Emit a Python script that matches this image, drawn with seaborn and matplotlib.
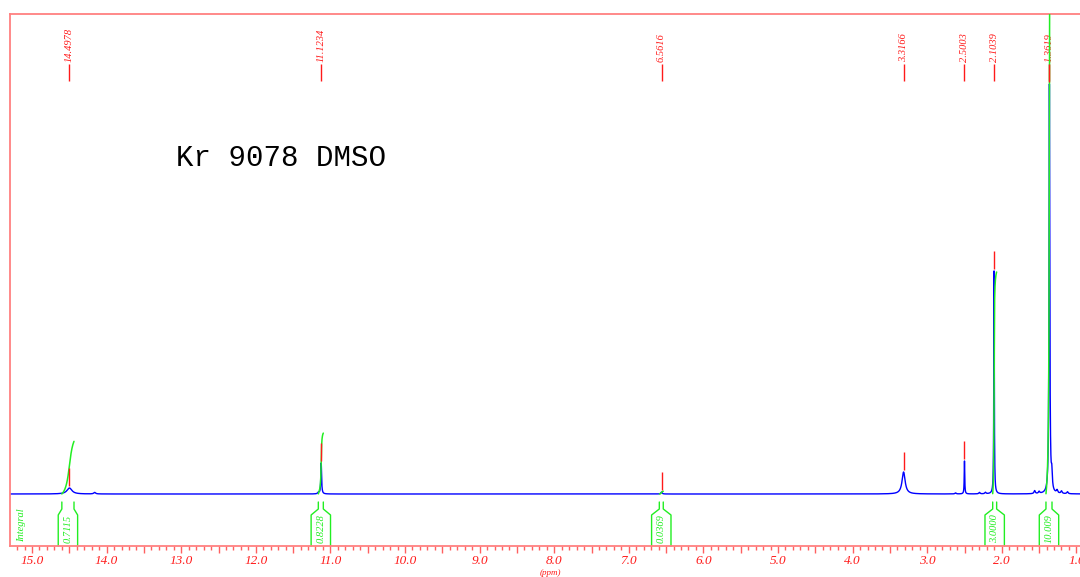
import numpy as np
import matplotlib
matplotlib.use("Agg")
import matplotlib.pyplot as plt
import seaborn as sns

# labelled peaks (ppm) and their heights / half widths
peak_ppm = [14.4978, 11.1234, 6.5616, 3.3166, 2.5003, 2.1039, 1.3619]
peak_height = [6, 31, 2, 22, 33, 223, 409]
peak_width = [0.04, 0.006, 0.01, 0.025, 0.004, 0.004, 0.006]
peak_text = ["14.4978", "11.1234", "6.5616", "3.3166", "2.5003", "2.1039", "1.3619"]

# small unlabelled bumps
minor_ppm = [14.16, 11.16, 2.62, 2.30, 2.22, 1.56, 1.50, 1.33, 1.26, 1.20, 1.12]
minor_height = [1.5, 1.5, 1.0, 1.5, 1.5, 3.0, 2.0, 16, 3.0, 2.5, 2.0]
minor_width = [0.015, 0.01, 0.01, 0.01, 0.01, 0.01, 0.01, 0.008, 0.01, 0.01, 0.01]

# integral regions
int_start = [14.60, 11.162, 6.591, 2.122, 1.408]
int_end = [14.437, 11.095, 6.538, 2.069, 1.327]
int_value = [0.7115, 0.8228, 0.0369, 3.0000, 10.009]
int_text = ["0.7115", "0.8228", "0.0369", "3.0000", "10.009"]
int_scale = 74.0

title = "Kr 9078 DMSO"

sns.set_style("white")
plt.rcParams['font.family'] = ['Liberation Serif', 'DejaVu Serif']

ppm = np.linspace(15.4, 0.7, 40000)
spec = np.zeros_like(ppm)
for x0, h, w in zip(peak_ppm + minor_ppm, peak_height + minor_height, peak_width + minor_width):
    spec += h / (1 + ((ppm - x0) / w) ** 2)

fig = plt.figure(figsize=(10.8, 5.77), dpi=100)
ax = fig.add_axes([10 / 1080, 31 / 577, 1.0, 532 / 577])

sns.lineplot(x=ppm, y=spec, color="#0000ff", lw=1.0, ax=ax, estimator=None, sort=False)

red = "#ff1a1a"
green = "#22ee22"

# integral curves and brackets
for a, b, val, txt in zip(int_start, int_end, int_value, int_text):
    m = (ppm <= a) & (ppm >= b)
    c = np.cumsum(spec[m])
    c = c / c[-1] * val * int_scale
    ax.plot(ppm[m], c, color=green, lw=1.1, zorder=4)
    mid = (a + b) / 2
    half = 0.13
    ys = [-8, -15, -21, -52]
    ax.plot([a, a, mid + half, mid + half], ys, color=green, lw=1.0, clip_on=False)
    ax.plot([b, b, mid - half, mid - half], ys, color=green, lw=1.0, clip_on=False)
    ax.text(mid, -35, txt, rotation=90, ha="center", va="center", color=green,
            fontsize=7.5, style="italic")

ax.text(15.14, -31, "Integral", rotation=90, ha="center", va="center", color=green,
        fontsize=7.5, style="italic")

# peak picking marks
for x0, txt in zip(peak_ppm, peak_text):
    top = np.interp(-x0, -ppm, spec)
    ax.vlines(x0, top + 2, top + 20, color=red, lw=1.0, zorder=5)
    ax.vlines(x0, 413, 430, color=red, lw=1.0)
    ax.text(x0, 432, txt, rotation=90, ha="center", va="bottom", color=red,
            fontsize=7.5, style="italic")

ax.text(13.07, 336, title, ha="left", va="center", fontsize=21,
        family=["Liberation Mono", "DejaVu Sans Mono"], color="black")

major = np.arange(1.0, 15.01, 0.5)
ax.set_xticks(major)
ax.set_xticklabels([f"{t:.1f}" if t == int(t) else "" for t in major],
                   color=red, fontsize=9.5, style="italic")
ax.set_xticks(np.arange(0.9, 15.25, 0.1), minor=True)
ax.tick_params(axis="x", which="major", length=5, width=1, color="#ff6060",
               pad=1.5, direction="out", bottom=True)
ax.tick_params(axis="x", which="minor", length=3, width=1, color="#ff6060",
               direction="out", bottom=True)
ax.set_yticks([])
ax.set_xlim(15.295, 0.8177)
ax.set_ylim(-52, 480)

ax.set_xlabel("(ppm)", color=red, fontsize=6.5, style="italic")
ax.xaxis.set_label_coords((550 - 10) / 1080, -0.043)

for s in ["left", "top", "bottom"]:
    ax.spines[s].set_color("#ff8080")
    ax.spines[s].set_linewidth(1.3)
ax.spines["right"].set_visible(False)

fig.savefig("out.png", dpi=100)
